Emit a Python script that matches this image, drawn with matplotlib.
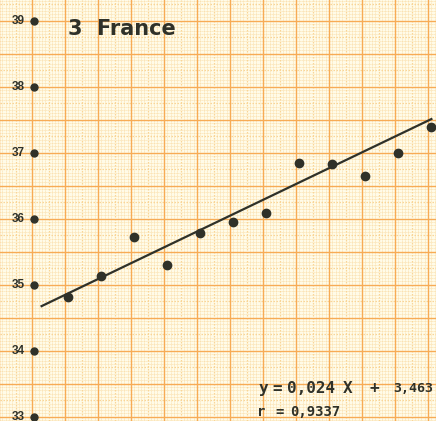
import numpy as np
import matplotlib.pyplot as plt

# yearly index and observed values (France)
years = np.arange(1, 13)
values = [34.81, 35.13, 35.72, 35.30, 35.78, 35.95,
          36.08, 36.85, 36.83, 36.65, 36.99, 37.39]
y_ticks = [33, 34, 35, 36, 37, 38, 39]

# fitted line y = 0,024 X + 3,463 (values in tens)
slope = 0.024
intercept = 3.463
r_value = 0.9337

paper = '#fffbe8'
major = '#f7ab55'
minor = '#f9d597'
ink = '#2f3129'

fig = plt.figure(figsize=(4.36, 4.21), dpi=100)
ax = fig.add_axes([0, 0, 1, 1])
ax.set_facecolor(paper)
ax.set_xlim(-1.07, 12.14)
ax.set_ylim(32.935, 39.314)

# millimetre paper: 1 cm lines plus dotted 1 mm lines, slightly offset from the data
shift = -0.10
for k in np.arange(-1, 13.01, 0.1):
    xv = k + shift
    if abs(k - round(k)) < 1e-6:
        ax.axvline(xv, color=major, lw=1.0, zorder=1)
    elif abs(k * 2 - round(k * 2)) < 1e-6:
        ax.axvline(xv, color=minor, lw=0.9, ls=(0, (1.2, 1.2)), zorder=0.9)
    else:
        ax.axvline(xv, color=minor, lw=0.6, ls=(0, (1, 1.4)), zorder=0.8)
for k in np.arange(32.5, 39.51, 0.05):
    if abs(k * 2 - round(k * 2)) < 1e-6:
        ax.axhline(k, color=major, lw=1.0, zorder=1)
    elif abs(k * 4 - round(k * 4)) < 1e-6:
        ax.axhline(k, color=minor, lw=0.9, ls=(0, (1.2, 1.2)), zorder=0.9)
    else:
        ax.axhline(k, color=minor, lw=0.6, ls=(0, (1, 1.4)), zorder=0.8)

# y axis marks drawn as dots with labels
axis_x = -0.04
ax.plot([axis_x] * len(y_ticks), y_ticks, 'o', color=ink, ms=5, zorder=3)
for t in y_ticks:
    ax.text(axis_x - 0.27, t, str(t), ha='right', va='center', fontsize=8.5,
            fontweight='bold', color=ink, family='Liberation Sans', zorder=3)

xs = np.array([0.19, 12.0])
ax.plot(xs, 10 * (slope * xs + intercept), color=ink, lw=1.6, zorder=3)
ax.plot(years, values, 'o', color=ink, ms=6, zorder=4)

ax.text(0.99, 38.88, '3  France', fontsize=15, fontweight='bold', color=ink,
        family='DejaVu Sans', va='center', ha='left', zorder=5)

# regression equation, set piece by piece in a typewriter face
mono = dict(fontweight='bold', color=ink, family='DejaVu Sans Mono',
            va='center', zorder=5)
eq_parts = [(6.75, 'y'), (7.17, '='), (7.63, '0,024'), (9.32, 'X'),
            (10.14, '+')]
for xp, s in eq_parts:
    ax.text(xp, 33.42, s, fontsize=11.5, ha='left', **mono)
ax.text(12.06, 33.42, f'{intercept:.3f}'.replace('.', ','), fontsize=9.5,
        ha='right', **mono)
r_parts = [(6.72, 'r'), (7.26, '='), (7.72, f'{r_value:.4f}'.replace('.', ','))]
for xp, s in r_parts:
    ax.text(xp, 33.07, s, fontsize=10, ha='left', **mono)

ax.set_xticks([])
ax.set_yticks([])
for s in ax.spines.values():
    s.set_visible(False)

fig.savefig('out.png', dpi=100, facecolor=paper)
